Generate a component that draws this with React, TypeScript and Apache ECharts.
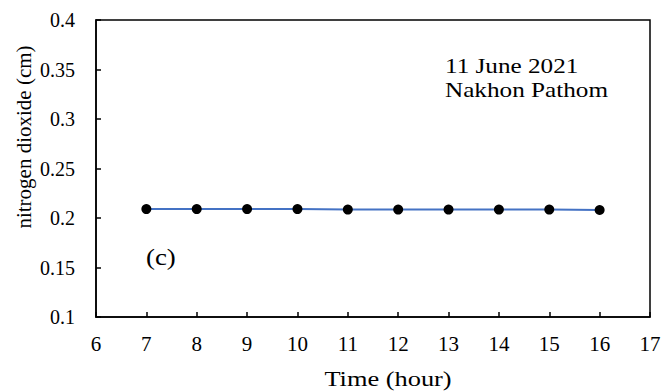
import React, { useEffect, useRef } from "react";
import * as echarts from "echarts";

const hours = [7, 8, 9, 10, 11, 12, 13, 14, 15, 16];
const no2 = [0.209, 0.209, 0.209, 0.209, 0.2085, 0.2085, 0.2085, 0.2085, 0.2085, 0.2081];
const xTitle = "Time (hour)";
const yTitle = "nitrogen dioxide (cm)";
const dateLabel = "11 June 2021";
const placeLabel = "Nakhon Pathom";
const panelLabel = "(c)";

const FONT = "Liberation Serif";

export default function App() {
  const ref = useRef<HTMLDivElement>(null);
  useEffect(() => {
    if (!ref.current) return;
    const chart = echarts.init(ref.current, null, { renderer: "svg" });
    const txt = (size: number) => ({ fontFamily: FONT, fontSize: size, fill: "#000" });
    chart.setOption({
      animation: false,
      backgroundColor: "#fff",
      textStyle: { fontFamily: FONT },
      grid: {
        left: 96,
        right: 14,
        top: 20,
        bottom: 75,
        show: true,
        borderColor: "#000",
        borderWidth: 1.5,
      },
      xAxis: {
        type: "value",
        min: 6,
        max: 17,
        interval: 1,
        axisLine: { lineStyle: { color: "#000", width: 1.5 } },
        axisTick: { inside: true, length: 5, lineStyle: { color: "#000", width: 1.5 } },
        axisLabel: { fontFamily: FONT, fontSize: 21, color: "#000", margin: 16 },
        splitLine: { show: false },
      },
      yAxis: {
        type: "value",
        min: 0.1,
        max: 0.4,
        interval: 0.05,
        axisLine: { show: true, lineStyle: { color: "#000", width: 1.5 } },
        axisTick: { show: true, inside: true, length: 5, lineStyle: { color: "#000", width: 1.5 } },
        axisLabel: {
          fontFamily: FONT,
          fontSize: 20,
          color: "#000",
          margin: 21,
          formatter: (v: number) => String(parseFloat(v.toFixed(2))),
        },
        splitLine: { show: false },
      },
      series: [
        {
          type: "line",
          data: hours.map((h, i) => [h, no2[i]]),
          symbol: "circle",
          symbolSize: 10,
          itemStyle: { color: "#000" },
          lineStyle: { color: "#4472C4", width: 2 },
        },
      ],
      graphic: [
        {
          type: "text",
          x: 388,
          y: 378,
          scaleX: 1.2,
          style: { ...txt(22), text: xTitle, align: "center", verticalAlign: "middle" },
        },
        {
          type: "text",
          x: 24,
          y: 137,
          rotation: Math.PI / 2,
          style: { ...txt(21), text: yTitle, align: "center", verticalAlign: "middle" },
        },
        {
          type: "text",
          x: 445,
          y: 55,
          scaleX: 1.2,
          style: { ...txt(21), text: dateLabel },
        },
        {
          type: "text",
          x: 445,
          y: 79,
          scaleX: 1.2,
          style: { ...txt(21), text: placeLabel },
        },
        {
          type: "text",
          x: 146,
          y: 245,
          scaleX: 1.12,
          style: { ...txt(24), text: panelLabel },
        },
      ],
    });
    return () => chart.dispose();
  }, []);
  return <div ref={ref} style={{ width: 664, height: 392, position: "absolute", left: 0, top: 0 }} />;
}
